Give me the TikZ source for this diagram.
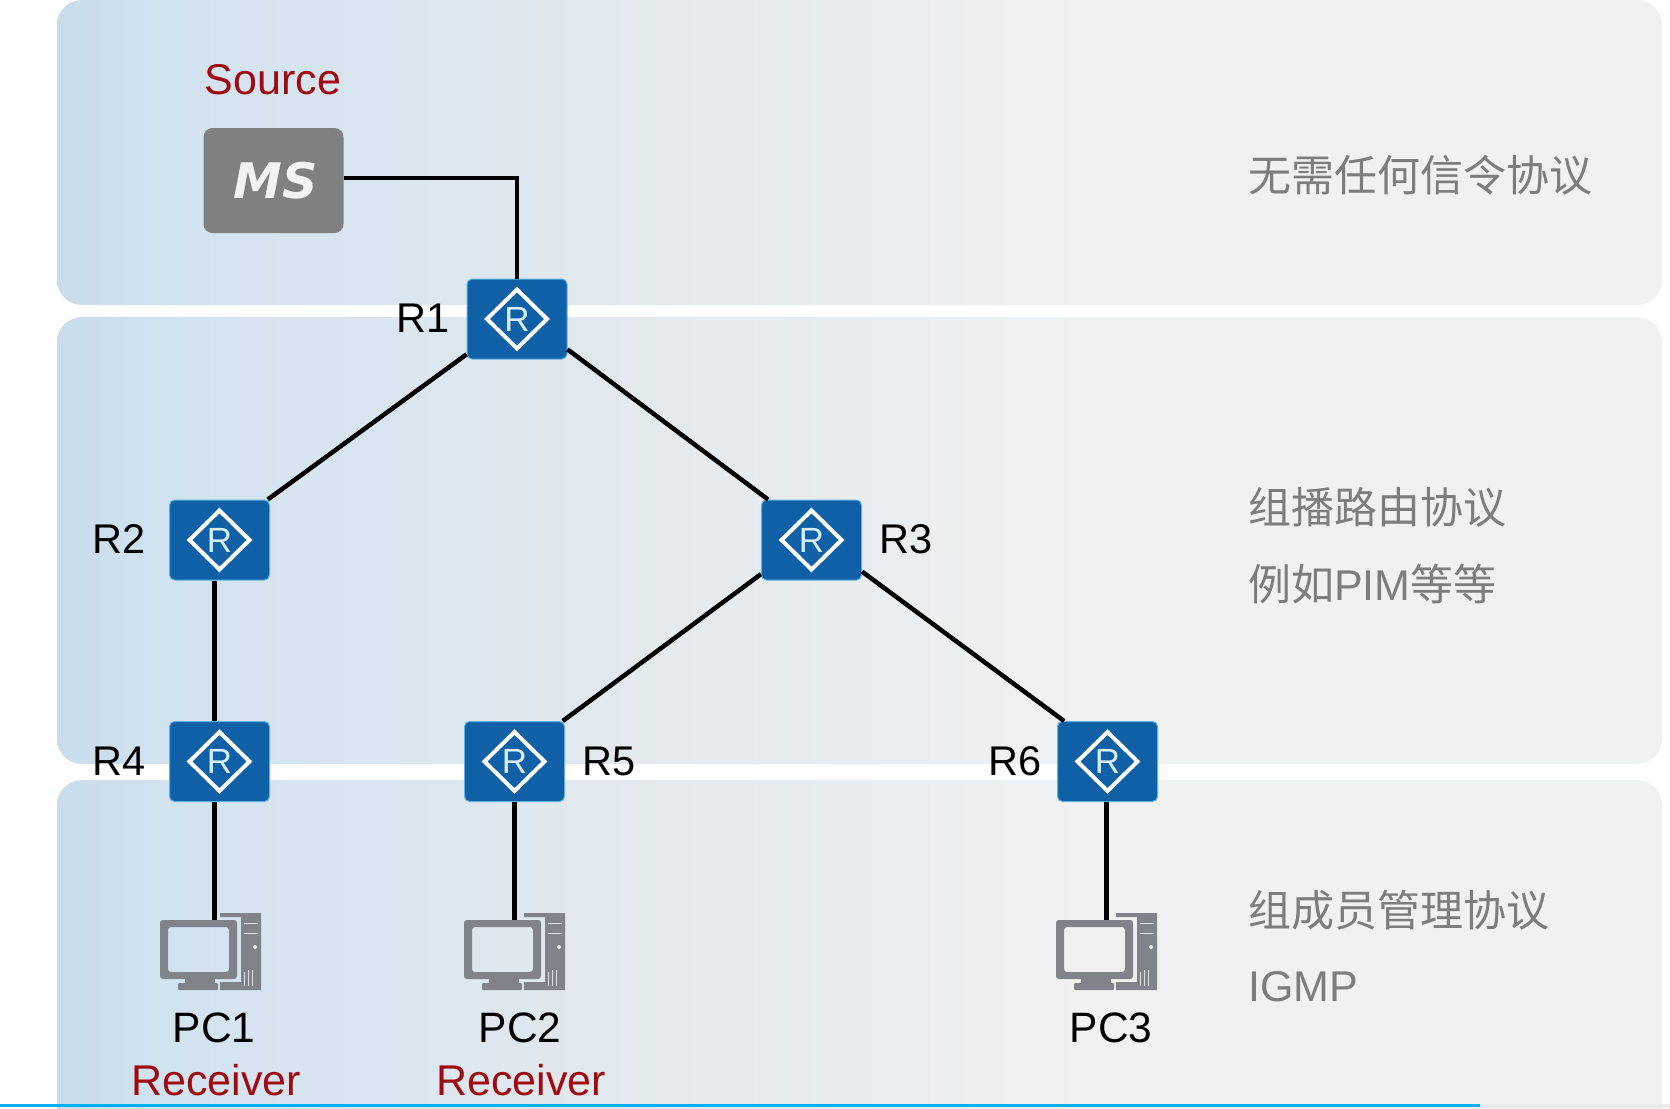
\documentclass[tikz,border=0pt]{standalone}
\usepackage{fontspec}
\setmainfont{Liberation Sans}
\newfontfamily\cjk{Noto Sans CJK SC}
\newfontfamily\msfont{DejaVu Sans}
\definecolor{bandA}{HTML}{C9DCEA}
\definecolor{bandB}{HTML}{D2E3F0}
\definecolor{bandC}{HTML}{E2E9EE}
\definecolor{bandD}{HTML}{F0F1F1}
\definecolor{routerblue}{HTML}{1060A8}
\definecolor{routeredge}{HTML}{5DB0E0}
\definecolor{routertext}{HTML}{D8EEFA}
\definecolor{pcgray}{HTML}{80848A}
\definecolor{msgray}{HTML}{808080}
\definecolor{darkred}{HTML}{A00A10}
\definecolor{notegray}{HTML}{7C7E7E}
\definecolor{barblue}{HTML}{00B0F0}
\pgfdeclarehorizontalshading{bandshade}{100bp}{color(0bp)=(bandA); color(25bp)=(bandA); color(28.5bp)=(bandB); color(42bp)=(bandC); color(57bp)=(bandD); color(75bp)=(bandD); color(100bp)=(bandD)}
\newcommand{\px}[1]{\fontsize{#1}{#1}\selectfont}
\tikzset{
  band/.style={shading=bandshade,rounded corners=25},
  link/.style={line width=4.5pt,black},
  router/.style={fill=routerblue,draw=routeredge,line width=1pt,rounded corners=5,
    minimum width=100pt,minimum height=80pt,inner sep=0pt,text=routertext,font=\px{35},
    path picture={\draw[white,line width=4pt,sharp corners]
      ([xshift=-30pt]path picture bounding box.center)
      -- ([yshift=29.5pt]path picture bounding box.center)
      -- ([xshift=30pt]path picture bounding box.center)
      -- ([yshift=-29.5pt]path picture bounding box.center) -- cycle;}},
  lbl/.style={inner sep=0pt,font=\px{41.5}},
  redlbl/.style={inner sep=0pt,font=\px{43},text=darkred},
  note/.style={inner sep=0pt,anchor=west,font=\px{43},text=notegray},
  pc/.pic={
    % tower, with a gap round the monitor
    \fill[pcgray] (60,-7) -- (101,-7) -- (101,70) -- (60,70) -- (60,62) -- (81,62) -- (81,-3) -- (60,-3) -- cycle;
    \draw[white!75!pcgray,line width=1pt] (84,3) -- (98,3) (84,13) -- (98,13);
    \fill[white!85!pcgray] (95,27) circle (2);
    \draw[white!75!pcgray,line width=1pt] (84,52) -- (84,66) (88,50) -- (88,66) (92,50) -- (92,66);
    % monitor
    \fill[pcgray,even odd rule,rounded corners=3] (0,0) rectangle (77,59) (8,7) rectangle (69,52);
    \fill[pcgray] (25,59) rectangle (55,63);
    \fill[pcgray,rounded corners=1] (18,63) rectangle (58,70);
    \coordinate (-top) at (50,0);
  }
}
\begin{document}
\begin{tikzpicture}[x=1pt,y=-1pt]
  \useasboundingbox (0,0) rectangle (1670,1108);
  \fill[white] (0,0) rectangle (1670,1108);

  % bands
  \shade[band] (57,0) rectangle (1662,305);
  \shade[band] (57,317) rectangle (1662,764);
  \shade[band] (57,780) rectangle (1662,1135);
  \fill[black!8] (1480,1104) rectangle (1670,1108);
  \fill[barblue] (0,1103.5) rectangle (1480,1106.5);

  % routers
  \foreach \name/\x/\y in {R1/517/319,R2/219.5/540,R3/811.5/540,R4/219.5/761.5,R5/514.5/761.5,R6/1107.5/761.5} {
    \node[router] (\name) at (\x,\y) {R};
  }
  \node[fill=msgray,rounded corners=9,minimum width=140pt,minimum height=105pt,inner sep=0pt,
    text=white!95!black,font=\msfont\bfseries\itshape\px{49}] (MS) at (273.5,180.5) {\raisebox{-2pt}{\hspace{5pt}MS}};

  \node[lbl] (R1label) at (423,318) {R1};
  \node[lbl] (R2label) at (119,539.5) {R2};
  \node[lbl] (R3label) at (906,539.5) {R3};
  \node[lbl] (R4label) at (119,761) {R4};
  \node[lbl] (R5label) at (609,761) {R5};
  \node[lbl] (R6label) at (1015,761) {R6};

  % hosts
  \pic (PC1) at (160,920) {pc};
  \pic (PC2) at (464,920) {pc};
  \pic (PC3) at (1056,920) {pc};
  \node[lbl,font=\px{42.5}] (PC1label) at (214,1027.5) {PC1};
  \node[lbl,font=\px{42.5}] (PC2label) at (520,1027.5) {PC2};
  \node[lbl,font=\px{42.5}] (PC3label) at (1111,1027.5) {PC3};
  \node[redlbl] (recvA) at (216,1080) {Receiver};
  \node[redlbl] (recvB) at (521,1080) {Receiver};
  \node[redlbl] (source) at (273,80) {Source};

  % links
  \draw[link] (MS.2) -| (R1);
  \draw[link] (R1.215.7) -- (R2.40);
  \draw[link] (R1.-31.7) -- (R3.137.9);
  \draw[link] (R3.214) -- (R5.40);
  \draw[link] (R3.-32.9) -- (R6.137.2);
  \draw[link] ([xshift=-5pt]R2.south) -- ([xshift=-5pt]R4.north);
  \draw[link] ([xshift=-5pt]R4.south) -- ([xshift=-5pt]R4.south |- PC1-top);
  \draw[link] (R5.south) -- (R5.south |- PC2-top);
  \draw[link] ([xshift=-1pt]R6.south) -- ([xshift=-1pt]R6.south |- PC3-top);

  % right column
  \node[note] (noteA) at (1248,175) {\cjk 无需任何信令协议};
  \node[note] (noteB) at (1248,507) {\cjk 组播路由协议};
  \node[note] (noteC) at (1248,584) {{\cjk 例如}PIM{\cjk 等等}};
  \node[note] (noteD) at (1248,910) {\cjk 组成员管理协议};
  \node[note] (noteE) at (1248,987) {IGMP};
\end{tikzpicture}
\end{document}
